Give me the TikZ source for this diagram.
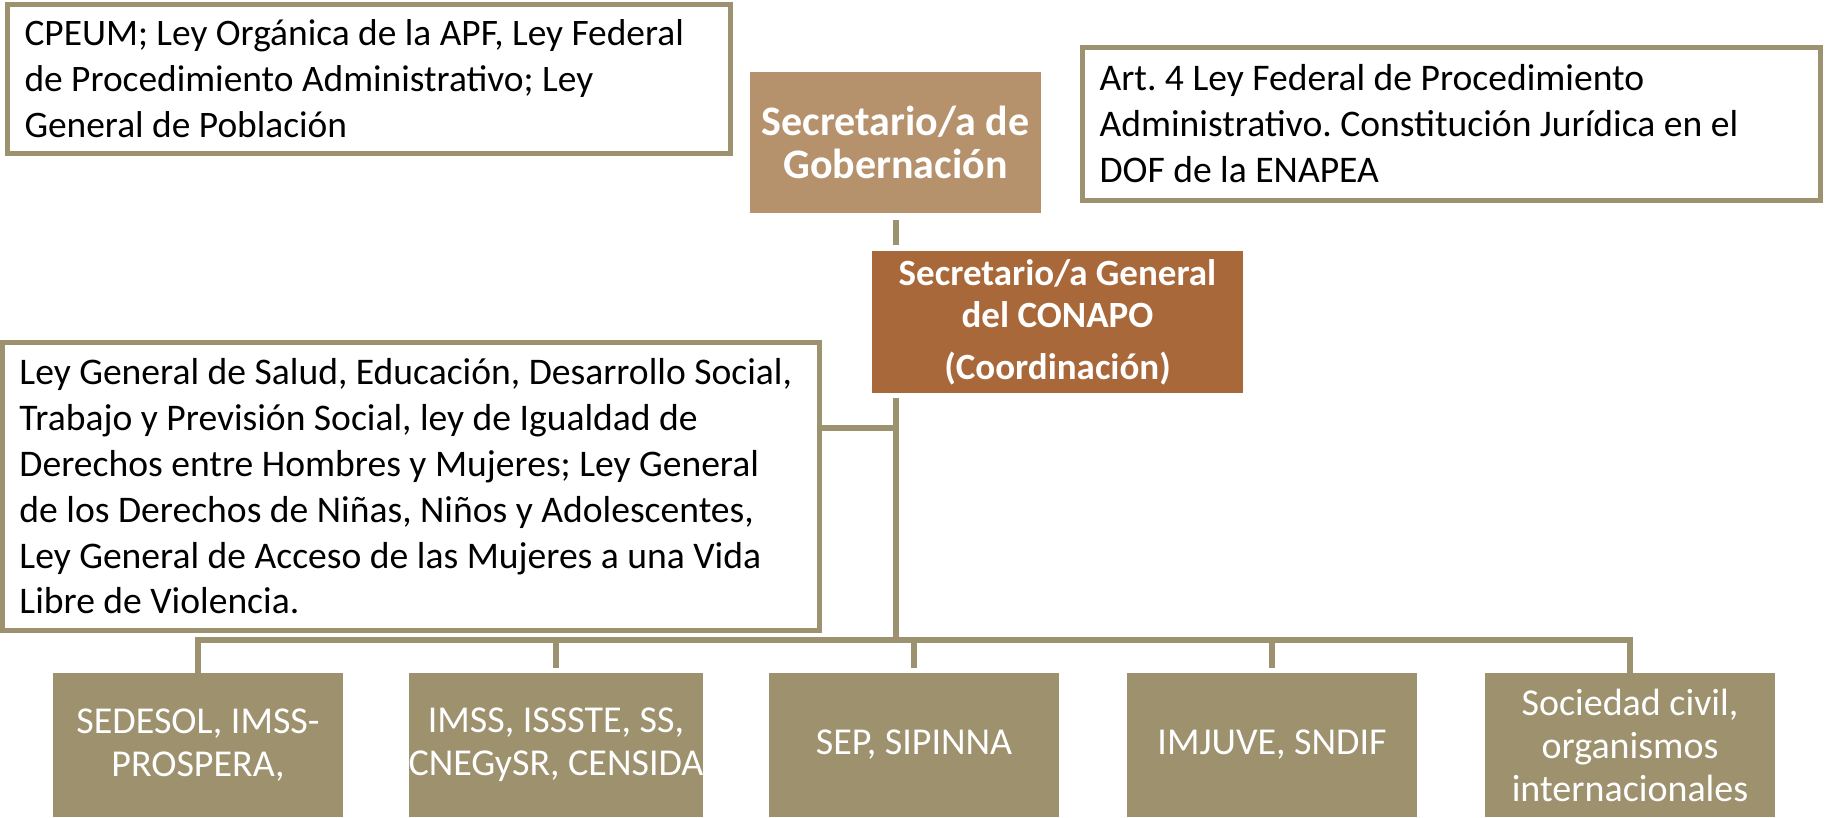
\documentclass[tikz,border=0pt]{standalone}
\usepackage{fontspec}
\setmainfont{Carlito}
\frenchspacing
\definecolor{bord}{HTML}{9C9270}
\definecolor{gobfill}{HTML}{B5916C}
\definecolor{confill}{HTML}{A96839}
\definecolor{agfill}{HTML}{9D916E}
\begin{document}
\begin{tikzpicture}[x=1pt,y=-1pt,
  wbox/.style={draw=bord, line width=5pt, fill=white, align=flush left, inner xsep=17pt, inner ysep=0pt,
    font=\fontsize{37.4}{46}\selectfont\frenchspacing, text=black},
  gobbox/.style={fill=gobfill, minimum width=291pt, minimum height=141pt, inner sep=0pt, align=center,
    text=white, font=\fontsize{42}{43}\selectfont\bfseries},
  conbox/.style={fill=confill, minimum width=371pt, minimum height=142pt, inner sep=0pt, align=center,
    text=white, font=\fontsize{37}{42}\selectfont\bfseries},
  agbox/.style={fill=agfill, minimum width=290pt, minimum height=144pt, inner sep=0pt, align=center,
    text=white, font=\fontsize{38}{43}\selectfont},
  conn/.style={draw=bord, line width=6pt, line cap=butt, line join=miter}]
\useasboundingbox (0,0) rectangle (1825,817);

\node[wbox, minimum width=723pt, minimum height=149pt, text width=689pt] (tl) at (369,79)
  {CPEUM; Ley Orgánica de la APF, Ley Federal\\de Procedimiento Administrativo; Ley\\General de Población};
\node[wbox, minimum width=738pt, minimum height=153pt, text width=704pt,
  font=\fontsize{37.6}{46}\selectfont] (tr) at (1451.5,124)
  {Art. 4 Ley Federal de Procedimiento\\Administrativo. Constitución Jurídica en el\\DOF de la ENAPEA};
\node[wbox, minimum width=817pt, minimum height=288pt, text width=783pt,
  font=\fontsize{37.6}{45.8}\selectfont] (lm) at (411,486.5)
  {Ley General de Salud, Educación, Desarrollo Social,\\Trabajo y Previsión Social, ley de Igualdad de\\Derechos entre Hombres y Mujeres; Ley General\\de los Derechos de Niñas, Niños y Adolescentes,\\Ley General de Acceso de las Mujeres a una Vida\\Libre de Violencia.};

\node[gobbox] (gob) at (895.5,142.5) {Secretario/a de\\Gobernación};
\node[conbox] (con) at (1057.5,322) {Secretario/a General\\del CONAPO\\[10pt](Coordinación)};

\node[agbox] (a1) at (198,745) {SEDESOL, IMSS-\\PROSPERA,};
\node[agbox] (a2) at (556,745) {IMSS, ISSSTE, SS,\\CNEGySR, CENSIDA};
\node[agbox] (a3) at (914,745) {SEP, SIPINNA};
\node[agbox] (a4) at (1272,745) {IMJUVE, SNDIF};
\node[agbox] (a5) at (1630,745) {Sociedad civil,\\organismos\\internacionales};

\coordinate (bus) at (895.5,640);
\coordinate (br) at (895.5,427.5);

\draw[conn, shorten <=7pt, shorten >=6pt] (gob.south) -- (gob.south |- con.north);
\draw[conn, shorten <=5pt] (gob.south |- con.south) -- (bus);
\draw[conn] (br) -- (br -| lm.east);
\draw[conn] ([yshift=-5pt]a1.north) -- (a1.north |- bus) -- (a5.north |- bus) -- ([yshift=-5pt]a5.north);
\draw[conn, shorten >=5pt] (a2.north |- bus) -- (a2.north);
\draw[conn, shorten >=5pt] (a3.north |- bus) -- (a3.north);
\draw[conn, shorten >=5pt] (a4.north |- bus) -- (a4.north);
\end{tikzpicture}
\end{document}
